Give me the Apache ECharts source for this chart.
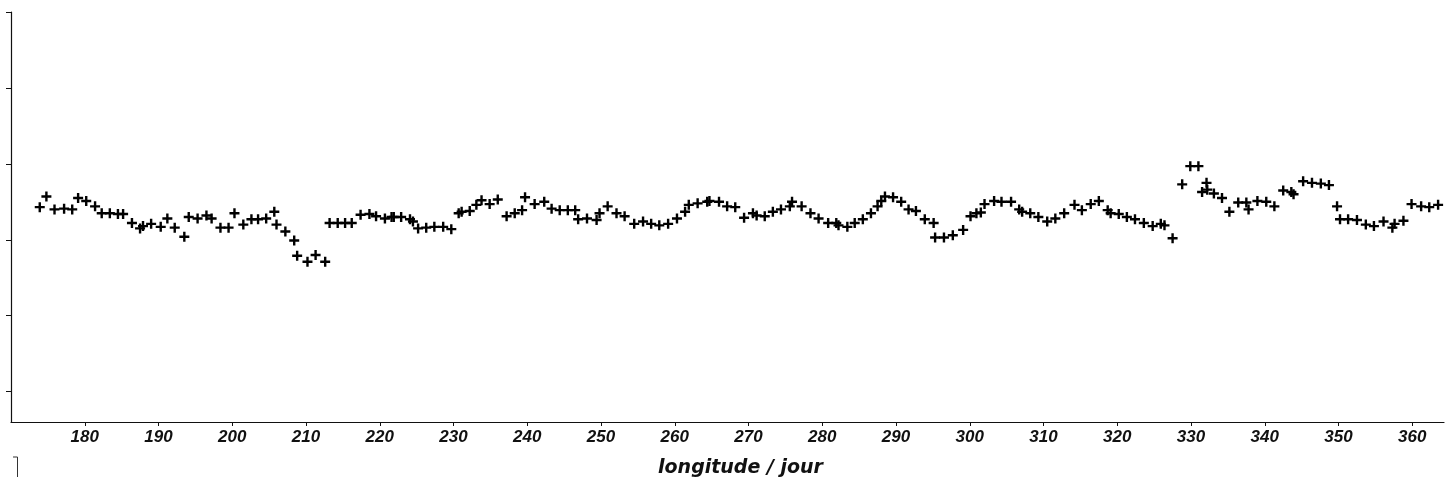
<!DOCTYPE html>
<html>
<head>
<meta charset="utf-8">
<script src="https://cdn.jsdelivr.net/npm/echarts@6/dist/echarts.min.js"></script>
<style>
html,body{margin:0;padding:0;background:#fff;}
#chart{width:1445px;height:486px;}
</style>
</head>
<body>
<div id="chart"></div>
<script>
const days = [
173.9,174.8,175.9,177.2,178.3,179.1,180.2,181.4,182.3,183.4,184.5,185.2,186.4,187.5,187.9,189.0,190.3,191.2,192.2,193.5,
194.1,195.3,196.5,197.2,198.4,199.5,200.3,201.5,202.6,203.5,204.6,205.7,206.0,207.2,208.4,208.8,210.2,211.3,212.6,
213.2,214.3,215.3,216.2,217.4,218.6,219.5,220.7,221.6,221.9,222.9,224.1,224.5,225.2,226.3,227.4,228.6,229.7,
230.7,231.1,232.2,233.1,233.8,234.9,236.0,237.2,238.3,239.3,239.7,241.0,242.3,243.3,244.4,245.5,246.5,246.9,248.1,249.4,249.8,
250.9,252.1,253.2,254.5,255.7,256.8,257.9,259.1,260.3,261.4,261.9,263.1,264.4,264.7,266.0,267.1,268.2,269.4,
270.6,271.1,272.2,273.3,274.4,275.6,275.9,277.2,278.4,279.5,280.8,281.9,282.2,283.4,284.4,285.5,286.6,287.5,288.0,288.5,289.6,
290.7,291.7,292.7,293.9,295.1,295.3,296.5,297.7,299.1,300.1,300.9,301.5,302.0,303.3,304.3,305.6,306.7,307.1,308.2,309.3,
310.5,311.6,312.8,314.2,315.2,316.4,317.5,318.7,319.1,320.2,321.3,322.4,323.6,324.8,325.9,326.4,327.5,328.8,329.9,
331.0,331.5,332.1,332.2,333.1,334.2,335.2,336.4,337.5,337.8,339.0,340.2,341.3,342.5,343.6,343.9,345.2,346.4,347.6,348.7,349.8,
350.2,351.3,352.5,353.7,354.8,356.1,357.3,357.6,358.8,359.9,361.2,362.3,363.5
];
const values = [
3.43,3.57,3.40,3.41,3.40,3.55,3.51,3.44,3.35,3.35,3.34,3.34,3.22,3.15,3.18,3.21,3.17,3.28,3.16,3.04,
3.30,3.28,3.32,3.28,3.16,3.16,3.35,3.20,3.27,3.27,3.28,3.37,3.20,3.11,2.99,2.79,2.71,2.80,2.71,
3.22,3.22,3.22,3.22,3.33,3.34,3.31,3.28,3.30,3.30,3.30,3.27,3.24,3.15,3.16,3.17,3.17,3.14,
3.35,3.37,3.38,3.46,3.52,3.47,3.53,3.31,3.35,3.39,3.56,3.47,3.50,3.41,3.39,3.39,3.39,3.27,3.28,3.26,3.35,
3.44,3.35,3.31,3.21,3.24,3.21,3.19,3.21,3.28,3.37,3.46,3.48,3.50,3.51,3.50,3.44,3.43,3.29,
3.35,3.32,3.31,3.37,3.40,3.44,3.50,3.44,3.35,3.28,3.22,3.22,3.19,3.17,3.22,3.27,3.35,3.44,3.51,3.57,3.56,
3.50,3.40,3.38,3.27,3.22,3.03,3.03,3.06,3.13,3.31,3.35,3.36,3.47,3.51,3.50,3.50,3.40,3.37,3.35,3.30,
3.24,3.28,3.35,3.46,3.39,3.47,3.51,3.39,3.35,3.34,3.30,3.27,3.22,3.18,3.21,3.19,3.02,3.73,3.97,
3.97,3.63,3.75,3.66,3.61,3.55,3.37,3.49,3.49,3.40,3.51,3.50,3.44,3.65,3.63,3.60,3.77,3.75,3.74,3.72,3.44,
3.27,3.27,3.26,3.20,3.18,3.24,3.16,3.21,3.25,3.47,3.44,3.43,3.46
];
const xTicks = [180,190,200,210,220,230,240,250,260,270,280,290,300,310,320,330,340,350,360];
const yTicks = [1,2,3,4,5,6];
const xTitle = 'longitude / jour';

const points = days.map((d, i) => [d, values[i]]);
const plus = 'path://M3.8,0H6.2V3.8H10V6.2H6.2V10H3.8V6.2H0V3.8H3.8Z';
const font = '"Liberation Sans", Arial, Helvetica, sans-serif';

const chart = echarts.init(document.getElementById('chart'), null, {renderer: 'canvas'});
chart.setOption({
  backgroundColor: '#ffffff',
  animation: false,
  grid: {left: 11, right: 1, top: 12, bottom: 64, containLabel: false, outerBoundsMode: 'none'},
  xAxis: {
    type: 'value', min: 170, max: 364.3,
    splitLine: {show: false},
    axisLine: {show: true, onZero: false, lineStyle: {color: '#111', width: 1.2}},
    axisTick: {show: true, inside: false, length: 4, customValues: xTicks, lineStyle: {color: '#111'}},
    axisLabel: {show: true, customValues: xTicks, margin: 7, color: '#111', fontFamily: font,
      fontSize: 17, fontWeight: 'bold', fontStyle: 'italic'},
    name: xTitle, nameLocation: 'middle', nameGap: 37,
    nameTextStyle: {color: '#111', fontFamily: '"DejaVu Sans", Verdana, sans-serif', fontSize: 19,
      fontWeight: 'bold', fontStyle: 'italic', padding: [0, 0, 0, 26]}
  },
  yAxis: {
    type: 'value', min: 0.6, max: 6,
    splitLine: {show: false},
    axisLine: {show: true, onZero: false, lineStyle: {color: '#111', width: 1.2}},
    axisTick: {show: true, inside: false, length: 5, customValues: yTicks, lineStyle: {color: '#111'}},
    axisLabel: {show: false}
  },
  graphic: [{
    type: 'polyline', silent: true,
    shape: {points: [[13, 457], [17.5, 457], [17.5, 477]]},
    style: {stroke: '#333', lineWidth: 1, fill: null}
  }],
  series: [{
    type: 'scatter',
    data: points,
    symbol: plus,
    symbolSize: 10,
    itemStyle: {color: '#000', opacity: 1},
    emphasis: {disabled: true}
  }]
});
</script>
</body>
</html>
